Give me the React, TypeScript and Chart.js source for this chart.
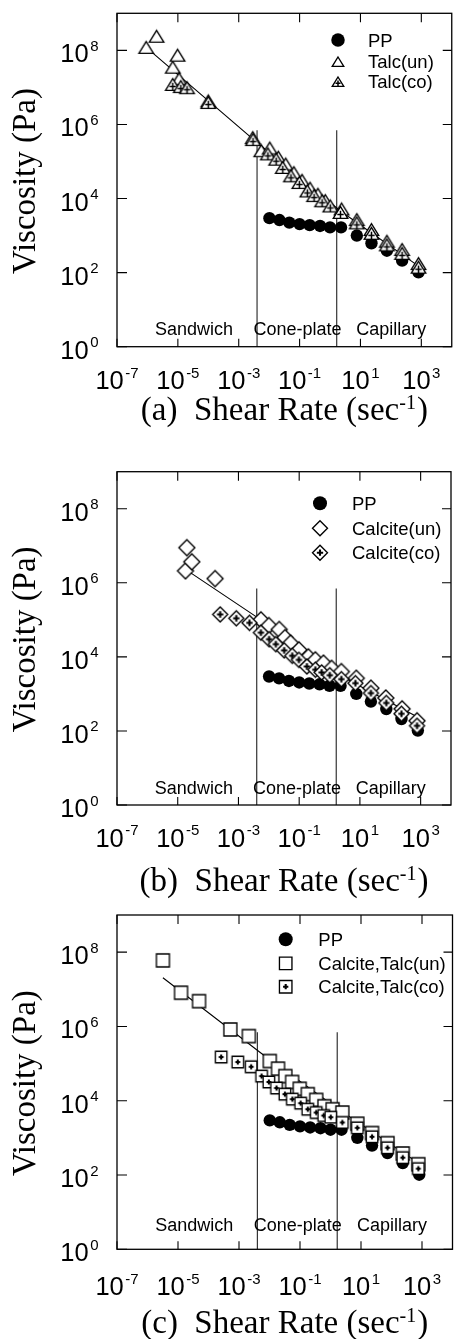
import { useEffect, useRef } from "react";
import { Chart, registerables } from "chart.js";

Chart.register(...registerables);

// ---------- shared axis data ----------
const X_TICKS = [1e-7, 1e-5, 1e-3, 1e-1, 1e1, 1e3];
const X_TICK_EXPONENTS = ["-7", "-5", "-3", "-1", "1", "3"];
const Y_TICKS = [1, 1e2, 1e4, 1e6, 1e8];
const Y_TICK_EXPONENTS = ["0", "2", "4", "6", "8"];

// measurement regions (shear rate, sec^-1)
const REGION_NAMES = ["Sandwich", "Cone-plate", "Capillary"];
const REGION_LABEL_RATES = [3.4e-5, 8.5e-2, 1.03e2];
const BOUNDARY_RATES = [4.0e-3, 1.66];
const BOUNDARY_TOP_VISC = 7.0e5;

// ---------- neat polypropylene ----------
const PP_RATE = [0.0102, 0.0218, 0.046, 0.1, 0.215, 0.47, 1.0, 2.3, 7.6, 23, 74, 234, 810];
const PP_VISC = [2950, 2630, 2240, 2040, 1910, 1820, 1660, 1660, 1000, 620, 390, 210, 102];

// ---------- (a) talc ----------
const TALC_UN_RATE = [9.1e-7, 2.0e-6, 6.8e-6, 9.8e-6, 1.1e-5, 1.0e-4, 2.9e-3, 0.0055, 0.0105, 0.02, 0.035, 0.065, 0.12, 0.22, 0.4, 0.7, 2.4, 7.6, 23, 74, 234, 810];
const TALC_UN_VISC = [1.2e8, 2.4e8, 3.5e7, 7.4e7, 1.7e7, 4.3e6, 4.4e5, 1.95e5, 2.3e5, 1.3e5, 8.5e4, 5.0e4, 3.1e4, 1.9e4, 1.3e4, 8.8e3, 5.2e3, 2.7e3, 1.45e3, 700, 420, 175];
const TALC_CO_RATE = [6.8e-6, 1.25e-5, 2.0e-5, 1.0e-4, 2.95e-3, 0.0091, 0.017, 0.028, 0.052, 0.098, 0.18, 0.3, 0.55, 1.02, 2.2, 7.6, 23, 74, 234, 810];
const TALC_CO_VISC = [1.2e7, 1.05e7, 9.8e6, 3.9e6, 3.9e5, 1.6e5, 1.15e5, 6.9e4, 4.1e4, 2.7e4, 1.6e4, 1.2e4, 8.7e3, 6.3e3, 4.2e3, 2.2e3, 1.15e3, 560, 330, 140];
const TALC_FIT_RATE = [9.1e-7, 2.95e-3, 2.2, 810];
const TALC_FIT_VISC = [1.2e8, 4.0e5, 4.6e3, 150];

// ---------- (b) calcite ----------
const CALCITE_UN_RATE = [1.8e-5, 2.0e-5, 2.9e-5, 1.7e-4, 5.5e-3, 0.01, 0.022, 0.034, 0.052, 0.098, 0.2, 0.34, 0.63, 1.17, 2.45, 7.6, 23, 71, 245, 760];
const CALCITE_UN_VISC = [2.1e6, 8.9e6, 3.7e6, 1.3e6, 1.0e5, 7.0e4, 5.5e4, 3.3e4, 2.35e4, 1.55e4, 1.0e4, 8.3e3, 6.8e3, 4.9e3, 4.0e3, 2.65e3, 1.43e3, 775, 395, 188];
const CALCITE_CO_RATE = [2.5e-4, 8.5e-4, 2.3e-3, 5.5e-3, 0.0102, 0.017, 0.032, 0.059, 0.098, 0.18, 0.34, 0.55, 1.02, 2.45, 7.1, 23, 74, 234, 760];
const CALCITE_CO_VISC = [1.4e5, 1.1e5, 8.3e4, 4.5e4, 3.0e4, 2.2e4, 1.5e4, 1.07e4, 8.3e3, 5.5e3, 4.5e3, 3.8e3, 3.2e3, 2.5e3, 1.95e3, 1.05e3, 570, 290, 138];
const CALCITE_FIT_RATE = [1.8e-5, 5.5e-3, 1.0, 760];
const CALCITE_FIT_VISC = [2.3e6, 1.0e5, 4.5e3, 2.4e2];

// ---------- (c) calcite + talc ----------
const CT_UN_RATE = [3.2e-6, 1.26e-5, 4.9e-5, 5.2e-4, 2.1e-3, 0.0102, 0.019, 0.033, 0.055, 0.098, 0.18, 0.34, 0.63, 1.17, 2.45, 7.6, 23, 74, 234, 760];
const CT_UN_VISC = [6.0e7, 8.1e6, 4.8e6, 8.3e5, 5.5e5, 1.17e5, 7.3e4, 4.6e4, 3.2e4, 2.1e4, 1.5e4, 1.05e4, 7.1e3, 5.9e3, 4.8e3, 2.4e3, 1.35e3, 720, 380, 195];
const CT_CO_RATE = [2.6e-4, 9.1e-4, 2.5e-3, 5.5e-3, 9.5e-3, 0.017, 0.032, 0.056, 0.105, 0.18, 0.34, 0.6, 1.02, 2.45, 7.6, 23, 74, 234, 760];
const CT_CO_VISC = [1.5e5, 1.1e5, 8.2e4, 4.6e4, 3.2e4, 2.2e4, 1.5e4, 1.1e4, 8.6e3, 5.9e3, 4.8e3, 4.0e3, 3.6e3, 2.6e3, 1.86e3, 1.07e3, 540, 293, 148];
const CT_FIT_RATE = [3.2e-6, 7.0e-3, 2.45, 760];
const CT_FIT_VISC = [2.05e7, 1.6e5, 5.0e3, 2.1e2];

// ---------- styling ----------
const INK = "#000";
const SANS = '"Liberation Sans", Arial, sans-serif';
const SERIF = '"Liberation Serif", "Times New Roman", serif';
const CANVAS_W = 460;
const PLOT_LEFT = 117;
const PLOT_RIGHT = 456.4;

type MarkerKind = "dot" | "triOpen" | "triCross" | "diaOpen" | "diaCross" | "sqOpen" | "sqCross";

interface PanelSpec {
  tag: string;
  canvasTop: number;
  height: number;
  plotTop: number;
  plotBottom: number;
  legendNames: string[];
  unKind: MarkerKind;
  coKind: MarkerKind;
  unSize: number;
  coSize: number;
  legendSizes: number[];
  legendMarkerX: number;
  legendTextX: number;
  legendRows: number[];
  unRate: number[];
  unVisc: number[];
  coRate: number[];
  coVisc: number[];
  fitRate: number[];
  fitVisc: number[];
  regionVisc: number;
  xTickBaseline: number;
  titleBaseline: number;
}

const PANELS: PanelSpec[] = [
  {
    tag: "(a)", canvasTop: 0, height: 440, plotTop: 13.3, plotBottom: 346.7,
    legendNames: ["PP", "Talc(un)", "Talc(co)"],
    unKind: "triOpen", coKind: "triCross", unSize: 14.5, coSize: 14.5,
    legendSizes: [13.5, 11.5, 11.5], legendMarkerX: 338, legendTextX: 368, legendRows: [26.7, 48.4, 68.4],
    unRate: TALC_UN_RATE, unVisc: TALC_UN_VISC, coRate: TALC_CO_RATE, coVisc: TALC_CO_VISC,
    fitRate: TALC_FIT_RATE, fitVisc: TALC_FIT_VISC,
    regionVisc: 3.1, xTickBaseline: 42.3, titleBaseline: 73.5,
  },
  {
    tag: "(b)", canvasTop: 440, height: 460, plotTop: 31.7, plotBottom: 365,
    legendNames: ["PP", "Calcite(un)", "Calcite(co)"],
    unKind: "diaOpen", coKind: "diaCross", unSize: 16, coSize: 15,
    legendSizes: [14, 15, 15], legendMarkerX: 320, legendTextX: 352, legendRows: [31.6, 56.6, 81],
    unRate: CALCITE_UN_RATE, unVisc: CALCITE_UN_VISC, coRate: CALCITE_CO_RATE, coVisc: CALCITE_CO_VISC,
    fitRate: CALCITE_FIT_RATE, fitVisc: CALCITE_FIT_VISC,
    regionVisc: 2.9, xTickBaseline: 41.5, titleBaseline: 86,
  },
  {
    tag: "(c)", canvasTop: 900, height: 439, plotTop: 15, plotBottom: 349.3,
    legendNames: ["PP", "Calcite,Talc(un)", "Calcite,Talc(co)"],
    unKind: "sqOpen", coKind: "sqCross", unSize: 13, coSize: 11.5,
    legendSizes: [14, 12.5, 12.5], legendMarkerX: 285.7, legendTextX: 318.3, legendRows: [24.3, 48.3, 71.7],
    unRate: CT_UN_RATE, unVisc: CT_UN_VISC, coRate: CT_CO_RATE, coVisc: CT_CO_VISC,
    fitRate: CT_FIT_RATE, fitVisc: CT_FIT_VISC,
    regionVisc: 4.5, xTickBaseline: 46, titleBaseline: 84,
  },
];

function drawMarker(ctx: CanvasRenderingContext2D, kind: MarkerKind, cx: number, cy: number, s: number) {
  ctx.save();
  ctx.strokeStyle = INK;
  ctx.fillStyle = "#fff";
  ctx.lineWidth = 1.35;
  const r = s / 2;
  if (kind === "dot") {
    ctx.beginPath();
    ctx.arc(cx, cy, r, 0, Math.PI * 2);
    ctx.fillStyle = INK;
    ctx.fill();
    ctx.restore();
    return;
  }
  const h = s * 0.82;
  ctx.beginPath();
  if (kind === "triOpen" || kind === "triCross") {
    ctx.moveTo(cx, cy - h / 2);
    ctx.lineTo(cx + r, cy + h / 2);
    ctx.lineTo(cx - r, cy + h / 2);
    ctx.closePath();
  } else if (kind === "diaOpen" || kind === "diaCross") {
    ctx.moveTo(cx, cy - r);
    ctx.lineTo(cx + r, cy);
    ctx.lineTo(cx, cy + r);
    ctx.lineTo(cx - r, cy);
    ctx.closePath();
  } else {
    ctx.rect(cx - r, cy - r, s, s);
  }
  ctx.fill();
  ctx.stroke();
  ctx.beginPath();
  if (kind === "triCross") {
    ctx.lineWidth = 1.5;
    ctx.moveTo(cx, cy - h * 0.14);
    ctx.lineTo(cx, cy + h / 2);
    ctx.moveTo(cx - s * 0.22, cy + h * 0.17);
    ctx.lineTo(cx + s * 0.22, cy + h * 0.17);
    ctx.stroke();
  } else if (kind === "diaCross" || kind === "sqCross") {
    const arm = s * 0.21;
    ctx.lineWidth = 2.1;
    ctx.moveTo(cx - arm, cy);
    ctx.lineTo(cx + arm, cy);
    ctx.moveTo(cx, cy - arm);
    ctx.lineTo(cx, cy + arm);
    ctx.stroke();
  }
  ctx.restore();
}

function markerImage(kind: MarkerKind, s: number): HTMLCanvasElement {
  const c = document.createElement("canvas");
  const n = Math.ceil(s + 4);
  c.width = n;
  c.height = n;
  const g = c.getContext("2d")!;
  drawMarker(g, kind, n / 2, n / 2, s);
  return c;
}

function pts(xs: number[], ys: number[]) {
  return xs.map((x, i) => ({ x, y: ys[i] }));
}

// "10" with a raised exponent; align = "right" | "center"
function drawPower(ctx: CanvasRenderingContext2D, exp: string, x: number, baseline: number, align: "right" | "center") {
  const baseFont = `25.5px ${SANS}`;
  const supFont = `15px ${SANS}`;
  ctx.font = baseFont;
  const bw = ctx.measureText("10").width;
  ctx.font = supFont;
  const sw = ctx.measureText(exp).width;
  const gap = 1.5;
  const total = bw + gap + sw;
  const left = align === "right" ? x - total : x - total / 2;
  ctx.textAlign = "left";
  ctx.textBaseline = "alphabetic";
  ctx.font = baseFont;
  ctx.fillText("10", left, baseline);
  ctx.font = supFont;
  ctx.fillText(exp, left + bw + gap, baseline - 11.5);
}

function decorations(p: PanelSpec) {
  return {
    id: "decor",
    afterDatasetsDraw(chart: Chart) {
      const { ctx, chartArea: a } = chart;
      const xs = chart.scales.x;
      const ys = chart.scales.y;
      ctx.save();
      ctx.fillStyle = INK;
      ctx.strokeStyle = INK;

      // region names
      ctx.font = `18px ${SANS}`;
      ctx.textAlign = "center";
      ctx.textBaseline = "alphabetic";
      const ry = ys.getPixelForValue(p.regionVisc) + 6.4;
      REGION_NAMES.forEach((name, i) => {
        ctx.fillText(name, xs.getPixelForValue(REGION_LABEL_RATES[i]), ry);
      });

      // frame
      ctx.lineWidth = 1.3;
      ctx.strokeRect(a.left, a.top, a.right - a.left, a.bottom - a.top);

      // inward tick marks
      ctx.lineWidth = 1.1;
      ctx.beginPath();
      X_TICKS.forEach((v) => {
        const x = xs.getPixelForValue(v);
        ctx.moveTo(x, a.top);
        ctx.lineTo(x, a.top + 9);
        ctx.moveTo(x, a.bottom);
        ctx.lineTo(x, a.bottom - 8);
      });
      Y_TICKS.forEach((v) => {
        const y = ys.getPixelForValue(v);
        ctx.moveTo(a.left, y);
        ctx.lineTo(a.left + 10, y);
        ctx.moveTo(a.right, y);
        ctx.lineTo(a.right - 9, y);
      });
      ctx.stroke();

      // tick labels
      X_TICKS.forEach((v, i) => {
        drawPower(ctx, X_TICK_EXPONENTS[i], xs.getPixelForValue(v), a.bottom + p.xTickBaseline, "center");
      });
      Y_TICKS.forEach((v, i) => {
        drawPower(ctx, Y_TICK_EXPONENTS[i], a.left - 18.5, ys.getPixelForValue(v) + 12, "right");
      });

      // y title
      ctx.save();
      ctx.translate(35, (a.top + a.bottom) / 2 + 1);
      ctx.rotate(-Math.PI / 2);
      ctx.font = `33px ${SERIF}`;
      ctx.textAlign = "center";
      ctx.textBaseline = "alphabetic";
      ctx.fillText("Viscosity (Pa)", 0, 0);
      ctx.restore();

      // x title with superscript
      const mainFont = `33px ${SERIF}`;
      const supFont = `20px ${SERIF}`;
      const t1 = `${p.tag}  Shear Rate (sec`;
      const t2 = "-1";
      const t3 = ")";
      ctx.font = mainFont;
      const w1 = ctx.measureText(t1).width;
      const w3 = ctx.measureText(t3).width;
      ctx.font = supFont;
      const w2 = ctx.measureText(t2).width;
      const total = w1 + w2 + w3 + 1;
      let tx = (a.left + a.right) / 2 - total / 2;
      const tb = a.bottom + p.titleBaseline;
      ctx.textAlign = "left";
      ctx.font = mainFont;
      ctx.fillText(t1, tx, tb);
      tx += w1;
      ctx.font = supFont;
      ctx.fillText(t2, tx, tb - 11);
      tx += w2 + 1;
      ctx.font = mainFont;
      ctx.fillText(t3, tx, tb);

      // legend
      const kinds: MarkerKind[] = ["dot", p.unKind, p.coKind];
      ctx.font = `18.5px ${SANS}`;
      ctx.textAlign = "left";
      p.legendNames.forEach((name, i) => {
        const y = a.top + p.legendRows[i];
        drawMarker(ctx, kinds[i], p.legendMarkerX, y, p.legendSizes[i]);
        ctx.fillStyle = INK;
        ctx.fillText(name, p.legendTextX, y + 6.6);
      });
      ctx.restore();
    },
  };
}

function Panel({ spec }: { spec: PanelSpec }) {
  const ref = useRef<HTMLCanvasElement | null>(null);
  useEffect(() => {
    const canvas = ref.current;
    if (!canvas) return;
    const unImg = markerImage(spec.unKind, spec.unSize);
    const coImg = markerImage(spec.coKind, spec.coSize);
    const boundaries = BOUNDARY_RATES.map((r, i) => ({
      label: `boundary${i}`,
      data: [{ x: r, y: 1 }, { x: r, y: BOUNDARY_TOP_VISC }],
      showLine: true,
      pointRadius: 0,
      borderColor: "#222",
      borderWidth: 1.1,
      order: 5,
    }));
    const chart = new Chart(canvas, {
      type: "scatter",
      data: {
        datasets: [
          {
            label: spec.legendNames[2],
            data: pts(spec.coRate, spec.coVisc),
            pointStyle: coImg as any,
            pointRadius: spec.coSize / 2,
            order: 0,
          },
          {
            label: spec.legendNames[1],
            data: pts(spec.unRate, spec.unVisc),
            pointStyle: unImg as any,
            pointRadius: spec.unSize / 2,
            order: 1,
          },
          {
            label: "fit",
            data: pts(spec.fitRate, spec.fitVisc),
            showLine: true,
            pointRadius: 0,
            borderColor: INK,
            borderWidth: 1.1,
            order: 2,
          },
          {
            label: "PP",
            data: pts(PP_RATE, PP_VISC),
            pointStyle: "circle",
            pointRadius: 6.2,
            backgroundColor: INK,
            borderColor: INK,
            borderWidth: 0,
            order: 3,
          },
          ...boundaries,
        ] as any,
      },
      options: {
        responsive: false,
        animation: false,
        devicePixelRatio: 1,
        events: [],
        layout: {
          padding: {
            left: PLOT_LEFT,
            right: CANVAS_W - PLOT_RIGHT,
            top: spec.plotTop,
            bottom: spec.height - spec.plotBottom,
          },
        },
        scales: {
          x: { type: "logarithmic", min: 1e-7, max: 1e4, display: false },
          y: { type: "logarithmic", min: 1, max: 1e9, display: false },
        },
        plugins: { legend: { display: false }, tooltip: { enabled: false } },
      },
      plugins: [decorations(spec) as any],
    });
    return () => chart.destroy();
  }, [spec]);
  return (
    <canvas
      ref={ref}
      width={CANVAS_W}
      height={spec.height}
      style={{ position: "absolute", left: 0, top: spec.canvasTop, width: CANVAS_W, height: spec.height }}
    />
  );
}

export default function App() {
  return (
    <div
      style={{
        position: "absolute",
        left: 0,
        top: 0,
        width: 456,
        height: 1339,
        overflow: "hidden",
        background: "#fff",
      }}
    >
      {PANELS.map((p) => (
        <Panel key={p.tag} spec={p} />
      ))}
    </div>
  );
}
